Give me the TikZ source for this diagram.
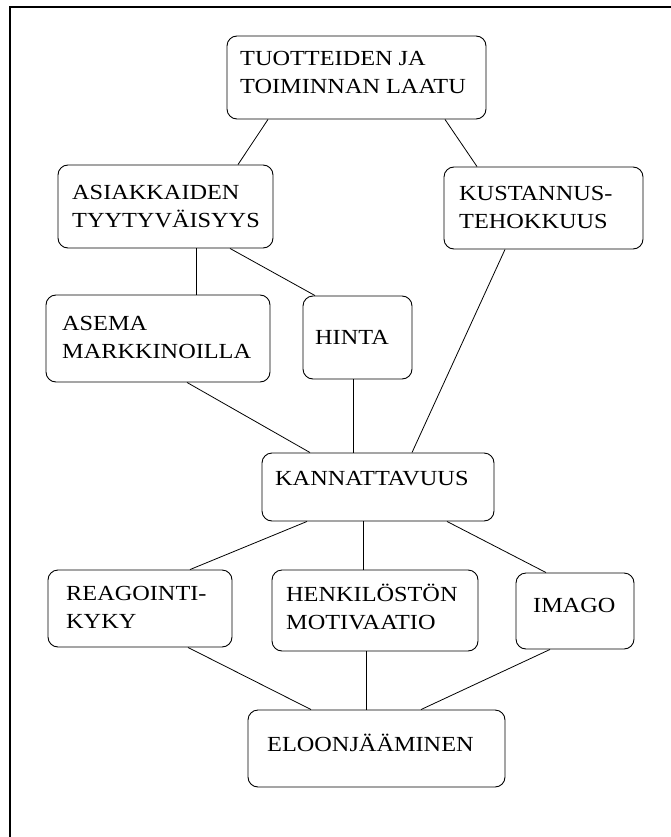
\documentclass[tikz,border=0pt]{standalone}
\usepackage{fontspec}
\setmainfont[FakeStretch=1.13]{Liberation Serif}
\usetikzlibrary{calc}
\begin{document}
\begin{tikzpicture}[x=1pt,y=-1pt,
  box/.style={draw,line width=0.9pt,rounded corners=10pt,inner sep=0pt},
  txt/.style={anchor=north west,inner sep=0pt,align=left,
    font=\fontsize{21.5}{28}\selectfont},
  conn/.style={line width=0.8pt}]
\useasboundingbox (0,0) rectangle (671,837);
% frame
\draw[line width=1.3pt] (671,7) -- (10,7) -- (10,837);
% boxes
\newcommand{\mkbox}[5]{\node[box,minimum width=#4-#2,minimum height=#5-#3] (#1) at ({(#2+#4)/2},{(#3+#5)/2}) {};}
\mkbox{tuo}{227}{36}{486}{119}
\mkbox{asi}{58}{165}{273}{248}
\mkbox{kus}{444}{167}{643}{249}
\mkbox{ase}{46}{295}{270}{382}
\mkbox{hin}{303}{296}{412}{379}
\mkbox{kan}{262}{453}{494}{521}
\mkbox{rea}{48}{570}{232}{647}
\mkbox{hen}{272}{570}{478}{651}
\mkbox{ima}{516}{573}{634}{649}
\mkbox{elo}{248}{710}{505}{787}
% texts (first baseline = top + 0.9em strut)
\newcommand{\fs}{\rule{0pt}{15pt}}
\node[txt] (ttuo) at (240,50) {\fs TUOTTEIDEN JA\\TOIMINNAN LAATU};
\node[txt] (tasi) at (72,184) {\fs ASIAKKAIDEN\\TYYTYVÄISYYS};
\node[txt] (tkus) at (459,185) {\fs KUSTANNUS-\\TEHOKKUUS};
\node[txt] (tase) at (62,315) {\fs ASEMA\\MARKKINOILLA};
\node[txt] (thin) at (315,329) {\fs HINTA};
\node[txt] (tkan) at (275,470) {\fs KANNATTAVUUS};
\node[txt] (trea) at (66,585) {\fs REAGOINTI-\\KYKY};
\node[txt] (then) at (286,584) {\fs HENKILÖSTÖN\\MOTIVAATIO};
\node[txt] (tima) at (533,597) {\fs IMAGO};
\node[txt] (telo) at (267,734) {\fs ELOONJÄÄMINEN};
% connectors
\draw[conn] (268,0 |- tuo.south) -- (238,0 |- asi.north);
\draw[conn] (445,0 |- tuo.south) -- (477,0 |- kus.north);
\draw[conn] (196,0 |- asi.south) -- (196,0 |- ase.north);
\draw[conn] (230,0 |- asi.south) -- (315,0 |- hin.north);
\draw[conn] (505,0 |- kus.south) -- (412,0 |- kan.north);
\draw[conn] (187,0 |- ase.south) -- (310,0 |- kan.north);
\draw[conn] (353,0 |- hin.south) -- (353,0 |- kan.north);
\draw[conn] (307,0 |- kan.south) -- (190,0 |- rea.north);
\draw[conn] (363,0 |- kan.south) -- (363,0 |- hen.north);
\draw[conn] (447,0 |- kan.south) -- (546,0 |- ima.north);
\draw[conn] (188,0 |- rea.south) -- (311,0 |- elo.north);
\draw[conn] (366,0 |- hen.south) -- (366,0 |- elo.north);
\draw[conn] (550,0 |- ima.south) -- (421,0 |- elo.north);
\end{tikzpicture}
\end{document}
